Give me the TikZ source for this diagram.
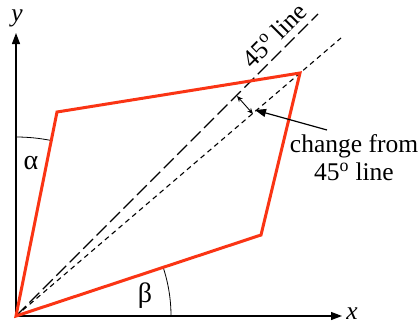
\documentclass[tikz,border=0pt]{standalone}
\usepackage{fontspec}
\setmainfont{Liberation Serif}
\usetikzlibrary{arrows.meta}
\definecolor{edgered}{RGB}{250,52,20}
\begin{document}
\begin{tikzpicture}[x=1pt,y=-1pt,
  axis/.style={line width=1.2pt,-{Triangle[length=11pt,width=8pt]}},
  quad/.style={edgered,line width=3pt,line join=miter},
  longdash/.style={line width=1.1pt,dash pattern=on 14pt off 5pt},
  shortdash/.style={line width=1.1pt,dash pattern=on 5pt off 4pt},
  thin arc/.style={line width=0.8pt},
  lbl/.style={font=\fontsize{25.5}{28}\selectfont,inner sep=0pt}]
\useasboundingbox (0,0) rectangle (420,324);
% points
\coordinate (O) at (16,316);
\coordinate (B) at (261,235);
\coordinate (C) at (300,73);
\coordinate (A) at (57,112);
\coordinate (Xend) at (342,316);
\coordinate (Yend) at (16,33);
\coordinate (L1) at (318,14);
\coordinate (L2) at (341,38);
% dashed lines
\draw[longdash] (O) -- (L1);
\draw[shortdash] (O) -- (L2);
% axes
\draw[axis] (O) -- (Xend);
\draw[axis] (O) -- (Yend);
\node[lbl,font=\fontsize{25.5}{28}\selectfont\itshape] (xl) at (352,314) {x};
\node[lbl,font=\fontsize{25.5}{28}\selectfont\itshape] (yl) at (17,18) {y};
% angle arcs
\draw[thin arc] (171,316) arc[start angle=0,end angle=-18.3,radius=155];
\draw[thin arc] (16,137) arc[start angle=-90,end angle=-78.6,radius=179];
\node[lbl,font=\fontsize{28}{30}\selectfont] (beta) at (145,296) {β};
\node[lbl,font=\fontsize{28}{30}\selectfont] (alpha) at (31,163) {α};
% quadrilateral
\draw[quad] (O) -- (B) -- (C) -- (A) -- cycle;
% 45 line label
\node[lbl,rotate=45] (l45) at (274,35) {45\textsuperscript{o} line};
% double arrow
\coordinate (d1) at (237,96);
\coordinate (d2) at (253,114);
\draw[line width=0.9pt,{Stealth[length=6pt,width=5pt]}-{Stealth[length=6pt,width=5pt]}] (d1) -- (d2);
% annotation
\node[lbl,align=center] (ann) at (354,158) {change from\\45\textsuperscript{o} line};
\coordinate (astart) at (327,130);
\coordinate (atip) at (255,110);
\draw[line width=1.2pt,-{Triangle[length=11pt,width=8pt]}] (astart) -- (atip);
\end{tikzpicture}
\end{document}
